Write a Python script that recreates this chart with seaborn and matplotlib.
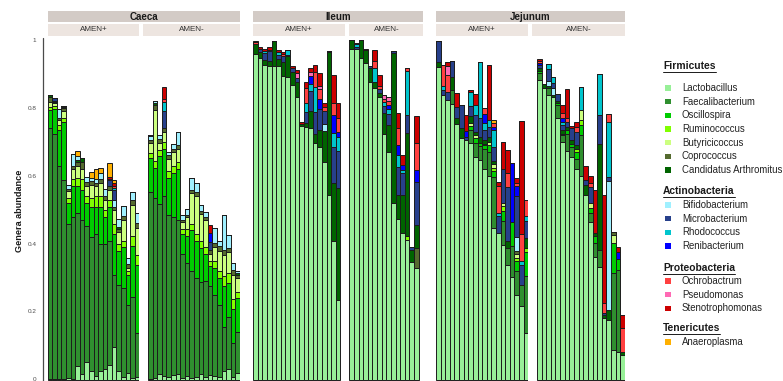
import matplotlib
matplotlib.use("Agg")
import matplotlib.pyplot as plt
from matplotlib.patches import Rectangle
from matplotlib.lines import Line2D
import pandas as pd
import seaborn as sns

W, H = 783, 381

# ---------------------------------------------------------------- data
GENERA = ["Lactobacillus", "Faecalibacterium", "Oscillospira", "Ruminococcus",
          "Butyricicoccus", "Coprococcus", "Candidatus Arthromitus",
          "Bifidobacterium", "Microbacterium", "Rhodococcus", "Renibacterium",
          "Ochrobactrum", "Pseudomonas", "Stenotrophomonas", "Anaeroplasma"]
PHYLA = ["Firmicutes", "Actinobacteria", "Proteobacteria", "Tenericutes"]
PHYLUM_SIZES = [7, 4, 3, 1]
GENUS_COLORS = ["#98F098", "#2F8F2F", "#00CC00", "#80FF00", "#CCFF80",
                "#556B2F", "#006400", "#A0F0FF", "#27408B", "#00C5CD",
                "#0000FF", "#FF4040", "#FF69B4", "#CC0000", "#FFB000"]
SECTIONS = ["Caeca", "Ileum", "Jejunum"]
GROUPS = ["AMEN+", "AMEN-"]
Y_TICKS = [0, 0.2, 0.4, 0.6, 0.8, 1.0]
Y_TICK_LABELS = ["0", "0.2", "0.4", "0.6", "0.8", "1"]

# one row per sample, columns follow GENERA
CAECA_POS = [
    [.002, .738, .054, .010, .015, .012, .007, 0, 0, 0, 0, 0, 0, 0, 0],
    [.002, .721, .075, .008, .008, .004, .002, 0, .010, 0, 0, 0, 0, 0, 0],
    [.002, .628, .105, .015, .015, .006, 0, .025, 0, 0, 0, 0, 0, 0, 0],
    [.003, .585, .170, .012, .022, .008, .003, .004, 0, 0, 0, 0, 0, 0, 0],
    [.007, .453, .060, .015, .020, .008, 0, .011, 0, 0, 0, 0, 0, 0, 0],
    [.004, .476, .090, .020, .030, .010, 0, .035, 0, 0, 0, 0, 0, 0, 0],
    [.041, .449, .080, .025, .035, .012, .005, .012, 0, 0, 0, 0, 0, 0, .015],
    [.018, .452, .090, .030, .030, .020, .012, 0, 0, 0, 0, 0, 0, 0, 0],
    [.052, .400, .070, .020, .030, .010, 0, .016, 0, 0, 0, 0, 0, 0, 0],
    [.027, .393, .090, .025, .040, .010, 0, .010, 0, 0, 0, 0, 0, 0, .018],
    [.012, .418, .080, .030, .030, .010, 0, .012, 0, 0, 0, 0, 0, 0, .030],
    [.025, .375, .110, .030, .040, .010, 0, .020, 0, 0, 0, 0, 0, 0, .015],
    [.031, .369, .080, .020, .030, .012, 0, .020, 0, 0, 0, 0, 0, 0, 0],
    [.044, .366, .100, .020, .030, .012, 0, 0, .015, 0, 0, .004, 0, .005, .041],
    [.098, .212, .120, .030, .040, .010, 0, .020, .030, .005, 0, .005, 0, .008, .010],
    [.025, .255, .100, .020, .035, .010, .005, .025, 0, 0, 0, 0, 0, 0, 0],
    [.010, .260, .120, .020, .060, .012, 0, .030, 0, 0, 0, 0, 0, 0, 0],
    [.020, .200, .090, .010, .010, .010, 0, .020, 0, 0, 0, 0, 0, 0, 0],
    [.007, .238, .150, .030, .090, .015, 0, .024, 0, 0, 0, 0, 0, 0, 0],
    [.010, .128, .200, .030, .080, .014, 0, .030, 0, 0, 0, 0, 0, 0, 0],
]
CAECA_NEG = [
    [.002, .550, .100, .015, .030, .010, 0, .010, .005, 0, 0, 0, 0, 0, 0],
    [.005, .530, .090, .020, .150, .014, .005, .008, 0, 0, 0, 0, 0, 0, 0],
    [.018, .500, .140, .020, .020, .010, 0, .014, 0, 0, 0, 0, 0, 0, 0],
    [.012, .528, .140, .020, .030, .010, 0, 0, .050, .027, 0, .010, 0, .034, 0],
    [.010, .475, .110, .020, .035, .011, 0, .010, 0, 0, 0, 0, 0, 0, 0],
    [.015, .465, .130, .020, .040, .010, 0, .014, 0, 0, 0, 0, 0, 0, 0],
    [.018, .452, .150, .020, .040, .012, 0, .038, 0, 0, 0, 0, 0, 0, 0],
    [.005, .365, .060, .015, .020, .005, 0, .015, 0, 0, 0, 0, 0, 0, 0],
    [.012, .331, .080, .020, .035, .008, 0, .016, 0, 0, 0, 0, 0, 0, 0],
    [.006, .314, .120, .020, .090, .010, 0, .033, 0, 0, 0, 0, 0, 0, 0],
    [.010, .290, .110, .020, .110, .012, 0, .026, 0, 0, 0, 0, 0, 0, 0],
    [.018, .270, .100, .020, .080, .010, 0, .017, 0, 0, 0, 0, 0, 0, 0],
    [.010, .280, .080, .020, .080, .010, 0, .015, 0, 0, 0, 0, 0, 0, 0],
    [.015, .260, .060, .015, .020, .012, 0, 0, .025, 0, .025, 0, 0, .024, 0],
    [.012, .238, .080, .020, .040, .012, 0, .044, 0, 0, 0, 0, 0, 0, 0],
    [.008, .212, .080, .020, .060, .015, 0, .015, 0, 0, 0, 0, 0, 0, 0],
    [.025, .132, .120, .030, .060, .015, 0, .103, 0, 0, 0, 0, 0, 0, 0],
    [.031, .155, .100, .030, .060, .012, 0, .039, 0, 0, 0, 0, 0, 0, 0],
    [.010, .098, .100, .030, .070, .015, 0, .020, 0, 0, 0, 0, 0, 0, 0],
    [.020, .120, .100, .020, .040, .010, .005, .005, 0, 0, 0, 0, 0, 0, 0],
]
ILEUM_POS = [
    [.958, 0, 0, 0, 0, 0, .030, 0, 0, 0, 0, .005, 0, .004, 0],
    [.946, 0, 0, 0, 0, 0, .020, 0, .008, 0, 0, 0, 0, .006, 0],
    [.926, 0, 0, 0, 0, 0, .015, 0, .020, .006, 0, 0, 0, .008, 0],
    [.924, 0, 0, 0, 0, 0, .013, 0, .030, 0, 0, .005, 0, .008, 0],
    [.924, 0, 0, 0, 0, 0, .074, 0, 0, 0, 0, 0, 0, 0, 0],
    [.924, 0, 0, 0, 0, 0, .020, 0, .012, .010, 0, 0, 0, .004, 0],
    [.894, 0, 0, 0, 0, 0, .040, 0, .020, 0, 0, .006, 0, .006, 0],
    [.892, 0, 0, 0, 0, 0, .060, 0, .005, .013, 0, 0, 0, 0, 0],
    [.868, 0, 0, 0, 0, 0, .039, 0, .010, 0, 0, 0, 0, .007, 0],
    [.832, 0, 0, 0, 0, 0, .045, 0, .012, 0, 0, 0, .013, .010, 0],
    [.748, 0, 0, 0, 0, 0, .006, 0, 0, 0, 0, 0, 0, .004, 0],
    [.745, 0, 0, 0, 0, 0, .010, 0, .034, .027, 0, .042, 0, .019, 0],
    [.740, 0, 0, 0, 0, 0, .050, 0, .060, .020, .025, 0, .012, .010, 0],
    [.696, 0, 0, 0, 0, 0, .029, 0, .064, .074, 0, .044, 0, .019, 0],
    [.686, 0, 0, 0, 0, 0, .050, 0, .060, 0, .030, .030, .008, .040, 0],
    [.642, 0, 0, 0, 0, 0, .090, .020, .040, 0, 0, .012, 0, .010, 0],
    [.544, 0, 0, 0, 0, 0, .420, 0, .005, 0, 0, 0, 0, 0, 0],
    [.410, 0, 0, 0, 0, 0, .170, 0, .106, .040, .054, .035, 0, .082, 0],
    [.235, 0, 0, 0, 0, 0, .330, 0, .110, .040, .015, .040, 0, .044, 0],
]
ILEUM_NEG = [
    [.975, 0, 0, 0, 0, 0, .025, 0, 0, 0, 0, 0, 0, 0, 0],
    [.973, 0, 0, 0, 0, 0, 0, 0, .007, .008, 0, 0, 0, .002, 0],
    [.946, 0, 0, 0, 0, 0, .054, 0, 0, 0, 0, 0, 0, 0, 0],
    [.931, 0, 0, 0, 0, 0, .040, 0, 0, 0, 0, 0, 0, .004, 0],
    [.877, 0, 0, 0, 0, 0, .040, 0, .007, 0, 0, 0, 0, 0, 0],
    [.858, 0, 0, 0, 0, 0, .020, 0, 0, .040, 0, .020, 0, .034, 0],
    [.833, 0, 0, 0, 0, 0, .010, 0, .012, 0, 0, .010, 0, .032, 0],
    [.725, 0, 0, 0, 0, 0, .060, 0, .020, .012, 0, .010, .011, 0, 0],
    [.671, 0, 0, 0, 0, 0, .080, 0, .030, .015, .012, .012, .013, 0, 0],
    [.521, 0, 0, 0, 0, 0, .440, 0, .008, 0, 0, 0, 0, 0, 0],
    [.473, 0, 0, 0, 0, 0, .071, 0, .083, .035, .029, .049, 0, .044, 0],
    [.431, 0, 0, 0, 0, 0, .113, 0, .064, .010, .014, 0, 0, .030, 0],
    [.412, 0, 0, .012, 0, 0, .303, 0, .053, .130, 0, .007, 0, 0, 0],
    [.348, 0, 0, 0, 0, 0, .034, 0, .010, 0, 0, 0, 0, 0, 0],
    [.329, 0, 0, 0, 0, .058, .069, 0, .127, 0, .035, .078, 0, .080, 0],
]
JEJUNUM_POS = [
    [.920, 0, 0, 0, 0, 0, .016, 0, .061, 0, 0, 0, 0, 0, 0],
    [.838, 0, 0, 0, 0, 0, 0, 0, .015, .012, 0, .061, 0, 0, 0],
    [.824, 0, 0, 0, 0, 0, 0, 0, .024, 0, 0, .050, .026, .012, 0],
    [.812, .040, 0, 0, 0, 0, .040, 0, .047, 0, 0, 0, 0, 0, 0],
    [.752, 0, 0, 0, 0, 0, .018, 0, .033, 0, 0, 0, 0, .040, 0],
    [.711, 0, 0, 0, 0, 0, .030, 0, .068, 0, 0, 0, 0, 0, 0],
    [.706, 0, 0, 0, 0, 0, 0, 0, .010, 0, .015, 0, 0, .048, 0],
    [.696, .040, .010, 0, .010, 0, .020, 0, .030, .040, 0, 0, 0, .007, 0],
    [.657, .040, .015, 0, .008, 0, .010, 0, .050, .030, 0, 0, 0, .031, 0],
    [.647, .040, .010, 0, 0, 0, .019, 0, .054, .166, 0, 0, 0, 0, 0],
    [.620, .060, .010, .005, 0, 0, .010, 0, .030, .020, .028, .016, 0, 0, 0],
    [.600, .070, .020, 0, .010, 0, .015, 0, .030, .020, 0, 0, 0, .161, 0],
    [.446, .150, .020, .008, .010, 0, .010, 0, .040, .050, .010, .011, 0, 0, .010],
    [.431, 0, 0, 0, 0, 0, 0, 0, .050, .010, 0, .080, 0, .012, 0],
    [.397, .070, .030, .015, .010, 0, 0, 0, .100, 0, 0, 0, 0, .079, 0],
    [.338, .050, 0, 0, 0, 0, .020, 0, .160, 0, 0, .040, 0, .070, 0],
    [.304, .090, .070, 0, 0, 0, 0, 0, 0, 0, .173, 0, 0, 0, 0],
    [.250, .070, .030, .010, .010, .010, 0, .040, .120, 0, .030, .010, 0, .013, 0],
    [.218, .060, 0, 0, 0, 0, 0, 0, .060, .012, 0, .080, 0, .333, 0],
    [.137, .170, .070, .010, 0, 0, .030, 0, .050, .015, 0, .047, 0, 0, 0],
]
JEJUNUM_NEG = [
    [.882, .020, .008, 0, 0, 0, .008, 0, .008, 0, .005, .006, 0, .006, 0],
    [.860, 0, 0, 0, 0, 0, .010, 0, 0, 0, 0, 0, 0, 0, 0],
    [.838, .020, 0, 0, 0, 0, .008, .014, .035, .014, 0, 0, 0, 0, 0],
    [.833, 0, 0, 0, 0, 0, .005, .020, .015, .019, 0, 0, 0, 0, 0],
    [.770, .040, .005, 0, 0, 0, .005, 0, .020, 0, 0, 0, 0, 0, 0],
    [.700, .020, .005, 0, 0, 0, .010, 0, .015, .010, .012, .012, 0, .026, 0],
    [.675, .050, .010, 0, 0, 0, .010, 0, .015, 0, 0, .010, 0, .085, 0],
    [.655, .030, .010, 0, 0, 0, .010, 0, .035, 0, 0, 0, 0, .008, 0],
    [.620, .030, .020, .010, 0, 0, .010, 0, .040, 0, 0, .015, 0, .015, 0],
    [.600, .120, .030, .015, .029, 0, 0, 0, 0, .069, 0, 0, 0, 0, 0],
    [.544, 0, 0, 0, 0, 0, .030, 0, .014, 0, 0, 0, 0, .042, 0],
    [.466, .024, .015, 0, .015, 0, 0, 0, .049, 0, 0, .010, 0, .021, 0],
    [.363, .040, .020, 0, 0, 0, .008, 0, 0, 0, 0, 0, 0, .129, 0],
    [.333, .050, 0, 0, 0, 0, .310, 0, .086, .120, 0, 0, 0, 0, 0],
    [.181, 0, 0, 0, 0, 0, .010, 0, .006, 0, 0, .029, 0, .318, 0],
    [.176, 0, 0, 0, 0, 0, .030, .380, .010, .164, 0, .022, 0, 0, 0],
    [.088, .226, .088, 0, .024, .010, 0, 0, 0, 0, 0, 0, 0, 0, 0],
    [.083, .241, .033, 0, 0, 0, 0, 0, 0, 0, .020, 0, 0, .015, 0],
    [.074, 0, 0, 0, 0, 0, .009, 0, 0, 0, 0, .069, 0, .039, 0],
]

PANEL_DATA = {
    ("Caeca", "AMEN+"): CAECA_POS, ("Caeca", "AMEN-"): CAECA_NEG,
    ("Ileum", "AMEN+"): ILEUM_POS, ("Ileum", "AMEN-"): ILEUM_NEG,
    ("Jejunum", "AMEN+"): JEJUNUM_POS, ("Jejunum", "AMEN-"): JEJUNUM_NEG,
}

# ---------------------------------------------------------------- layout (pixels)
# left, right, xmin, xmax of every facet panel
PANEL_BOUNDS = {
    ("Caeca", "AMEN+"): (47.7, 139.3, -0.5, 19.5),
    ("Caeca", "AMEN-"): (143.3, 240.0, -1.5, 19.5),
    ("Ileum", "AMEN+"): (253.3, 345.0, -0.5, 19.5),
    ("Ileum", "AMEN-"): (349.3, 423.3, -0.5, 15.5),
    ("Jejunum", "AMEN+"): (436.0, 528.3, -0.5, 19.5),
    ("Jejunum", "AMEN-"): (532.3, 625.0, -1.5, 18.5),
}
PANEL_TOP = 38.0
Y_LO, Y_HI = -0.003, 1.006
STRIP_COLOR = "#D3CBC6"
SUBSTRIP_COLOR = "#EDE5E0"
EDGE = "#1c1c1c"

sns.set_theme(style="white")
plt.rcParams["font.family"] = ["Liberation Sans", "DejaVu Sans"]

fig = plt.figure(figsize=(W / 100, H / 100), dpi=100)
fig.patch.set_facecolor("white")


def fx(px):
    return px / W


def fy(py):
    return 1 - py / H


palette = dict(zip(GENERA, GENUS_COLORS))
stack_order = GENERA[::-1]   # histplot stacks the last hue level at the bottom

for section in SECTIONS:
    for group in GROUPS:
        rows = PANEL_DATA[(section, group)]
        left, right, x0, x1 = PANEL_BOUNDS[(section, group)]
        ax = fig.add_axes([fx(left), 0, (right - left) / W, (H - PANEL_TOP) / H])
        records = [(i, g, v) for i, row in enumerate(rows)
                   for g, v in zip(GENERA, row) if v > 0]
        df = pd.DataFrame(records, columns=["sample", "genus", "abundance"])
        sns.histplot(data=df, x="sample", weights="abundance", hue="genus",
                     hue_order=stack_order, palette=palette, multiple="stack",
                     discrete=True, shrink=1.0, stat="count", alpha=1,
                     edgecolor=EDGE, linewidth=0.5, legend=False, ax=ax)
        for p in ax.patches:
            p.set_linewidth(0.7)
            p.set_edgecolor(EDGE)
        ax.set_xlim(x0, x1)
        ax.set_ylim(Y_LO, Y_HI)
        ax.set_axis_off()

        # group strip
        fig.add_artist(Rectangle((fx(left), fy(35.5)), (right - left) / W, 11.5 / H,
                                 transform=fig.transFigure, facecolor=SUBSTRIP_COLOR,
                                 edgecolor="none"))
        fig.text(fx((left + right) / 2), fy(29.8), group, ha="center", va="center",
                 fontsize=5.8, color="#333333")

    # section strip
    s_left = PANEL_BOUNDS[(section, GROUPS[0])][0]
    s_right = PANEL_BOUNDS[(section, GROUPS[-1])][1]
    fig.add_artist(Rectangle((fx(s_left), fy(22.3)), (s_right - s_left) / W, 11.3 / H,
                             transform=fig.transFigure, facecolor=STRIP_COLOR,
                             edgecolor="none"))
    fig.text(fx((s_left + s_right) / 2), fy(16.6), section, ha="center", va="center",
             fontsize=7, fontweight="bold", color="#1a1a1a")

# y axis
fig.add_artist(Line2D([fx(42.5), fx(42.5)], [fy(38), fy(381)], color="#4a4a4a",
                      linewidth=0.9, transform=fig.transFigure))


def value_to_px(v):
    return PANEL_TOP + (Y_HI - v) / (Y_HI - Y_LO) * (H - PANEL_TOP)


for v, lab in zip(Y_TICKS, Y_TICK_LABELS):
    fig.text(fx(36.5), fy(value_to_px(v)), lab, ha="right", va="center",
             fontsize=4.6, color="#4d4d4d")
fig.text(fx(19.5), fy(211), "Genera abundance", rotation=90, ha="center",
         va="center", fontsize=6.6, fontweight="bold", color="#1a1a1a")

# legend grouped by phylum
HEADER_Y = [66, 191, 268, 328]
FIRST_ITEM_Y = [88, 205, 281, 342]
ITEM_STEP = 13.65
renderer = fig.canvas.get_renderer()
k = 0
for phylum, size, hy, iy in zip(PHYLA, PHYLUM_SIZES, HEADER_Y, FIRST_ITEM_Y):
    t = fig.text(fx(663), fy(hy), phylum, ha="left", va="center", fontsize=7.4,
                 fontweight="bold", color="#1a1a1a")
    bb = t.get_window_extent(renderer)
    fig.add_artist(Line2D([bb.x0 / W, bb.x1 / W], [(bb.y0 - 0.6) / H] * 2,
                          color="#1a1a1a", linewidth=0.7, transform=fig.transFigure))
    for j in range(size):
        y = iy + j * ITEM_STEP
        fig.add_artist(Rectangle((fx(665), fy(y + 2.6)), 6 / W, 5.2 / H,
                                 transform=fig.transFigure,
                                 facecolor=GENUS_COLORS[k], edgecolor="none"))
        fig.text(fx(682), fy(y), GENERA[k], ha="left", va="center", fontsize=6.9,
                 color="#222222")
        k += 1

fig.savefig("out.png", dpi=100, facecolor="white")
